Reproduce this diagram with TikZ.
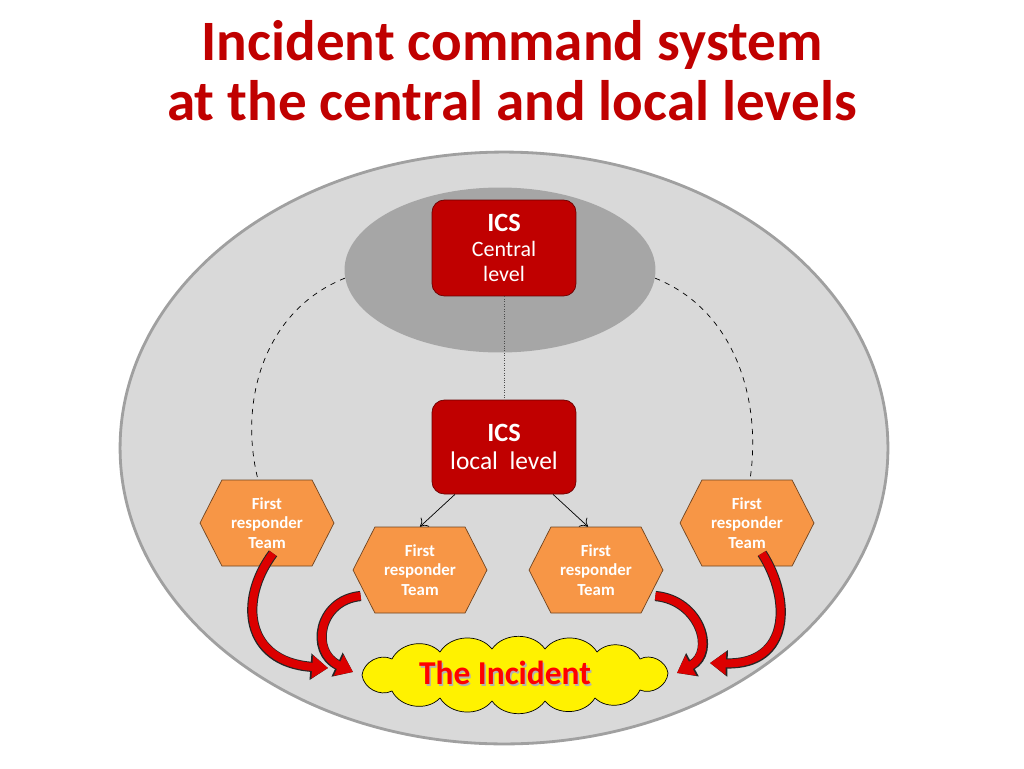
\documentclass[tikz,border=0pt]{standalone}
\usepackage{fontspec}
\setmainfont{Carlito}
\usetikzlibrary{positioning,shapes.geometric,shapes.symbols,arrows.meta,calc}
\definecolor{icsred}{RGB}{192,0,0}
\definecolor{teamorange}{RGB}{247,150,70}
\definecolor{fieldgray}{RGB}{217,217,217}
\definecolor{coregray}{RGB}{166,166,166}
\definecolor{rimgray}{RGB}{160,160,160}
\definecolor{flowred}{RGB}{220,0,0}
\tikzset{%
  title/.style = {text=icsred,font=\bfseries\fontsize{32.5}{36}\selectfont},
  ics/.style = {rectangle,rounded corners=7pt,draw=icsred!55!black,fill=icsred,
        text=white,minimum width=2.88cm,align=center,
        font=\fontsize{12.5}{14}\selectfont},
  team/.style = {signal,signal to=east and west,signal pointer angle=126,
        draw=teamorange!45!black,fill=teamorange,text=white,
        minimum width=2.68cm,minimum height=1.72cm,inner sep=0pt,align=center,
        font=\bfseries\fontsize{9.6}{11}\selectfont},
  puff/.style = {draw,fill=yellow,line join=round},
  flow/.style = {-{Triangle[length=9pt,width=12.5pt]},draw=flowred,line width=4.6pt,
        preaction={draw=black!85,line width=5.8pt,-{Triangle[length=10pt,width=14.5pt]}}},
  link/.style = {dashed,thin},
  order/.style = {-{To[length=4pt,width=7pt]},thin}
}
\newcommand{\icshead}{{\bfseries\fontsize{15}{17}\selectfont ICS}}

\begin{document}
\begin{tikzpicture}[x=0.02cm,y=-0.02cm]
  \useasboundingbox (0,0) rectangle (1024,768);
  % title
  \node[title,anchor=base] (head1) at (512,60) {Incident command system};
  \node[title,anchor=base] (head2) at (512,120) {at the central and local levels};
  % background ellipses
  \node[ellipse,draw=rimgray,line width=1.6pt,fill=fieldgray,
        minimum width=15.36cm,minimum height=11.84cm] (field) at (504,448) {};
  \node[ellipse,fill=coregray,minimum width=6.22cm,minimum height=3.3cm] (core) at (500,270) {};
  % ICS boxes
  \node[ics,minimum height=1.92cm] (central) at (504,248) {\icshead\\Central\\level};
  \node[ics,minimum height=1.88cm,font=\fontsize{14.5}{16}\selectfont] (local) at (504,447)
       {\icshead\\local\ \ level};
  % first responder teams
  \node[team] (teamL) at (267,523) {First\\responder\\Team};
  \node[team] (teamML) at (420,570) {First\\responder\\Team};
  \node[team] (teamMR) at (596,570) {First\\responder\\Team};
  \node[team] (teamR) at (747,523) {First\\responder\\Team};
  % the incident (cloud)
  \draw[puff] (362,675) to[bend left=55] (392,659) to[bend left=55] (440,652)
    to[bend left=55] (492,649) to[bend left=55] (545,649) to[bend left=55] (597,652)
    to[bend left=55] (640,659) to[bend left=55] (668,673) to[bend left=55] (640,690)
    to[bend left=55] (595,698) to[bend left=55] (545,701) to[bend left=55] (492,701)
    to[bend left=55] (440,698) to[bend left=55] (392,691) to[bend left=55] (362,675) -- cycle;
  \node[text=black!30,font=\bfseries\fontsize{19}{21}\selectfont] (shade) at (506.5,674.5) {The Incident};
  \node[text=red,font=\bfseries\fontsize{19}{21}\selectfont] (event) at (505,673) {The Incident};
  % links between levels
  \draw[densely dotted,black!70] (central) -- (local);
  \draw[link] (core.183) .. controls (265,310) and (238,400) .. ($(teamL.north)+(-9,0)$);
  \draw[link] (core.357) .. controls (735,310) and (762,400) .. ($(teamR.north)+(3,0)$);
  \draw[order] ($(local.south)+(-49,0)$) -- (teamML.north);
  \draw[order] ($(local.south)+(49,0)$) -- ($(teamMR.north)+(-8,0)$);
  % teams moving to the incident
  \coordinate (hitL) at (328,668);
  \coordinate (hitML) at (353,672);
  \coordinate (hitMR) at (677,673);
  \coordinate (hitR) at (710,663);
  \draw[flow] ($(teamL.south)+(6,-13)$) .. controls (238,600) and (245,662) .. (hitL);
  \draw[flow] ($(teamML.west)+(8,26)$) .. controls (318,600) and (310,652) .. (hitML);
  \draw[flow] ($(teamMR.east)+(-8,26)$) .. controls (700,600) and (716,652) .. (hitMR);
  \draw[flow] ($(teamR.south)+(15,-13)$) .. controls (792,600) and (790,665) .. (hitR);
\end{tikzpicture}
\end{document}
